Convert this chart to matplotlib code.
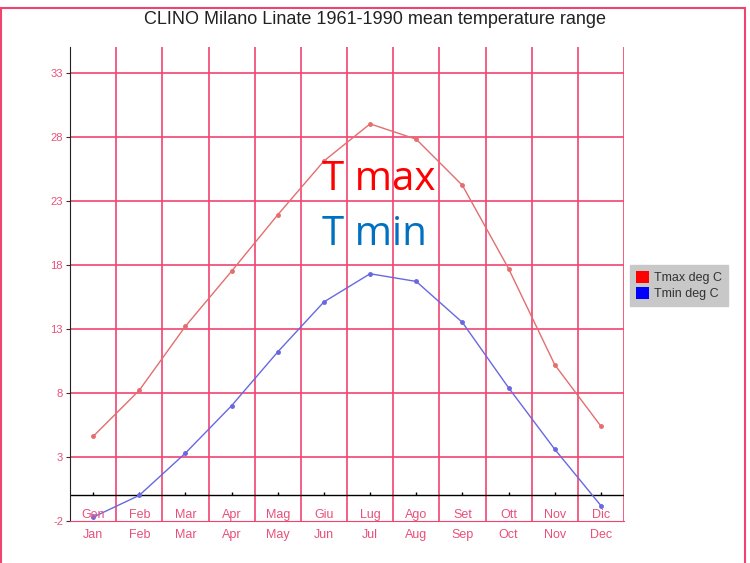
import matplotlib
matplotlib.use("Agg")
import matplotlib.pyplot as plt
from matplotlib.patches import Patch, Rectangle

# month labels (italian inside the plot, english below)
mesi = ["Gen", "Feb", "Mar", "Apr", "Mag", "Giu", "Lug", "Ago", "Set", "Ott", "Nov", "Dic"]
months = ["Jan", "Feb", "Mar", "Apr", "May", "Jun", "Jul", "Aug", "Sep", "Oct", "Nov", "Dec"]

# mean temperatures, deg C
tmax = [4.6, 8.2, 13.2, 17.5, 21.9, 26.1, 29.0, 27.8, 24.2, 17.7, 10.2, 5.4]
tmin = [-1.7, 0.0, 3.3, 7.0, 11.2, 15.1, 17.3, 16.7, 13.5, 8.4, 3.6, -0.8]

yticks = [-2, 3, 8, 13, 18, 23, 28, 33]

pink = "#F04470"
pink_txt = "#E8507A"
red_line = "#E46E6E"
blue_line = "#6868E0"

fig = plt.figure(figsize=(7.5, 5.63), dpi=100)
ax = fig.add_axes([70/750, 1 - 521/563, 554/750, 474/563])

x = [i + 0.5 for i in range(12)]

ax.set_xlim(0, 12)
ax.set_ylim(-2, 35)

# grid
for i in range(13):
    ax.axvline(i, color=pink, lw=1.2, zorder=1)
for v in yticks[1:]:
    ax.axhline(v, color=pink, lw=1.2, zorder=1)
ax.axhline(0, color="black", lw=1.0, zorder=2)
ax.vlines(x, 0, 0.25, color="black", lw=1.0, zorder=2)

ax.plot(x, tmax, color=red_line, lw=1.0, marker="o", ms=2.5, zorder=3)
ax.plot(x, tmin, color=blue_line, lw=1.0, marker="o", ms=2.5, zorder=3)

for xi, m in zip(x, mesi):
    ax.text(xi, -1.5, m, color=pink_txt, fontsize=9, ha="center", va="center",
            family="Liberation Sans")

ax.set_yticks(yticks)
ax.set_yticklabels([str(v) for v in yticks], color=pink_txt, fontsize=8, family="Liberation Sans")
ax.set_xticks(x)
ax.set_xticklabels(months, color=pink_txt, fontsize=9, family="Liberation Sans")
ax.tick_params(axis="x", length=0, pad=6)
ax.tick_params(axis="y", length=3, color="#333333", pad=2)

ax.spines["top"].set_visible(False)
ax.spines["right"].set_visible(False)
ax.spines["bottom"].set_color(pink)
ax.spines["left"].set_color("#222222")

# big labels
ax.text(5.45, 24.65, "T max", color="#FF0000", fontsize=29, family="Open Sans", va="center")
ax.text(5.45, 20.35, "T min", color="#0070C0", fontsize=29, family="Open Sans", va="center")

fig.text(0.5, 1 - 20/563, "CLINO Milano Linate 1961-1990 mean temperature range",
         ha="center", va="center", fontsize=13, family="Liberation Sans", color="#222222")

handles = [Patch(facecolor="#FF0000", label="Tmax deg C"),
           Patch(facecolor="#0000FF", label="Tmin deg C")]
leg = fig.legend(handles=handles, loc="upper left", bbox_to_anchor=(630/750, 1 - 265/563),
                 frameon=True, fancybox=False, handlelength=1.1, handleheight=1.1,
                 handletextpad=0.4, borderpad=0.45, labelspacing=0.25, borderaxespad=0,
                 prop={"family": "Liberation Sans", "size": 9})
leg.get_frame().set_facecolor("#C8C8C8")
leg.get_frame().set_edgecolor("#C8C8C8")
leg.get_frame().set_alpha(1)
for t in leg.get_texts():
    t.set_color("#333333")

# outer border
fig.patches.append(Rectangle((1/750, -0.02), 744/750, 1.02 - 8/563, transform=fig.transFigure,
                             fill=False, edgecolor=pink, lw=1.5))

fig.savefig("out.png", dpi=100)
